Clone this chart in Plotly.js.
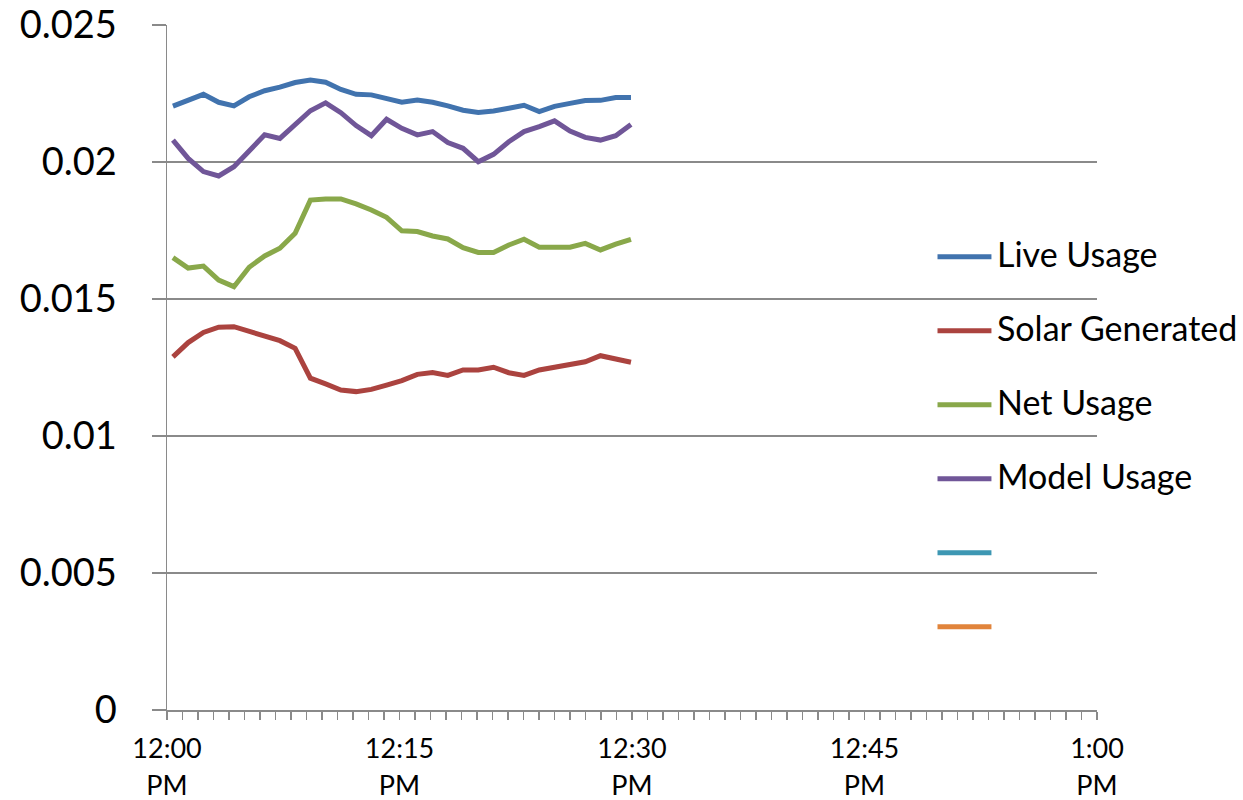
<!DOCTYPE html>
<html>
<head>
<meta charset="utf-8">
<script src="https://cdn.plot.ly/plotly-3.0.1.min.js"></script>
<style>
  html, body { margin: 0; padding: 0; background: #fff; }
  #chart { width: 1243px; height: 800px; }
</style>
</head>
<body>
<div id="chart"></div>
<script>
// Sample timestamps (one reading roughly every minute)
const times = [
  '2024-01-01 12:00:23', '2024-01-01 12:01:22', '2024-01-01 12:02:21', '2024-01-01 12:03:20',
  '2024-01-01 12:04:19', '2024-01-01 12:05:18', '2024-01-01 12:06:18', '2024-01-01 12:07:17',
  '2024-01-01 12:08:16', '2024-01-01 12:09:15', '2024-01-01 12:10:14', '2024-01-01 12:11:13',
  '2024-01-01 12:12:12', '2024-01-01 12:13:11', '2024-01-01 12:14:10', '2024-01-01 12:15:09',
  '2024-01-01 12:16:09', '2024-01-01 12:17:08', '2024-01-01 12:18:07', '2024-01-01 12:19:06',
  '2024-01-01 12:20:05', '2024-01-01 12:21:04', '2024-01-01 12:22:03', '2024-01-01 12:23:02',
  '2024-01-01 12:24:01', '2024-01-01 12:25:00', '2024-01-01 12:26:00', '2024-01-01 12:26:59',
  '2024-01-01 12:27:58', '2024-01-01 12:28:57', '2024-01-01 12:29:56'
];

const liveUsage = [
  0.02204, 0.02226, 0.02247, 0.02218, 0.02205, 0.02238, 0.02260, 0.02273,
  0.02290, 0.02299, 0.02291, 0.02265, 0.02247, 0.02245, 0.02232, 0.02218,
  0.02226, 0.02218, 0.02205, 0.02189, 0.02181, 0.02186, 0.02196, 0.02207,
  0.02184, 0.02203, 0.02214, 0.02224, 0.02225, 0.02235, 0.02235
];

const solarGenerated = [
  0.01289, 0.01341, 0.01378, 0.01397, 0.01399, 0.01381, 0.01366, 0.01348,
  0.01320, 0.01211, 0.01190, 0.01168, 0.01162, 0.01170, 0.01186, 0.01202,
  0.01225, 0.01232, 0.01221, 0.01241, 0.01241, 0.01251, 0.01231, 0.01221,
  0.01241, 0.01252, 0.01262, 0.01271, 0.01293, 0.01281, 0.01269
];

const netUsage = [
  0.01651, 0.01613, 0.01620, 0.01569, 0.01545, 0.01616, 0.01657, 0.01685,
  0.01740, 0.01861, 0.01865, 0.01865, 0.01847, 0.01825, 0.01798, 0.01749,
  0.01746, 0.01730, 0.01719, 0.01687, 0.01670, 0.01670, 0.01697, 0.01718,
  0.01689, 0.01689, 0.01689, 0.01703, 0.01679, 0.01700, 0.01718
];

const modelUsage = [
  0.02080, 0.02013, 0.01965, 0.01949, 0.01983, 0.02041, 0.02099, 0.02086,
  0.02137, 0.02187, 0.02216, 0.02180, 0.02133, 0.02096, 0.02156, 0.02123,
  0.02099, 0.02111, 0.02071, 0.02050, 0.02001, 0.02028, 0.02074, 0.02111,
  0.02129, 0.02150, 0.02113, 0.02090, 0.02080, 0.02096, 0.02137
];

// Series (the last two are unnamed and hold no readings)
const seriesNames  = ['Live Usage', 'Solar Generated', 'Net Usage', 'Model Usage', '', ''];
const seriesValues = [liveUsage, solarGenerated, netUsage, modelUsage, [], []];
const seriesColors = ['#4173AE', '#AB433F', '#89A84A', '#705698', '#3D97B3', '#E1843B'];

const xRange = ['2024-01-01 12:00:00', '2024-01-01 13:00:00'];
const yRange = [0, 0.025];

const FONT = 'Lato, "Open Sans", sans-serif';
const AXIS_GREY = '#8a8a8a';
const LINE_W = 5;

// The top-most series sits on the twin time axis (same range) that carries the AM/PM row
const traces = seriesNames.map((name, i) => ({
  type: 'scatter',
  mode: 'lines',
  name: name,
  x: seriesValues[i].length ? times : [],
  y: seriesValues[i],
  xaxis: i === 3 ? 'x2' : 'x',
  line: { color: seriesColors[i], width: LINE_W },
  hoverinfo: 'skip',
  showlegend: false
}));

// Legend drawn as short line samples with labels, stacked on the right of the plot
const legendShapes = [];
const legendLabels = [];
const legendTop = 0.6617, legendStep = 0.108;
seriesNames.forEach((name, i) => {
  const yy = legendTop - i * legendStep;
  legendShapes.push({
    type: 'line', xref: 'paper', yref: 'paper',
    x0: 0.8285, x1: 0.8865, y0: yy, y1: yy,
    line: { color: seriesColors[i], width: LINE_W }
  });
  if (name) {
    legendLabels.push({
      xref: 'paper', yref: 'paper', x: 0.8905, y: yy + 0.004,
      xanchor: 'left', yanchor: 'middle', showarrow: false,
      text: name, font: { family: FONT, size: 34, color: '#000' }
    });
  }
});

const layout = {
  width: 1243,
  height: 800,
  margin: { l: 167, r: 146, t: 25, b: 90 },
  paper_bgcolor: '#fff',
  plot_bgcolor: '#fff',
  showlegend: false,
  font: { family: FONT, color: '#000' },
  xaxis: {
    type: 'date',
    range: xRange,
    showgrid: false,
    zeroline: false,
    showline: true,
    linecolor: AXIS_GREY,
    linewidth: 1.5,
    ticks: 'outside',
    ticklen: 8,
    tickwidth: 1.5,
    tickcolor: AXIS_GREY,
    dtick: 15 * 60 * 1000,
    tick0: xRange[0],
    tickformat: '%-I:%M',
    tickfont: { family: FONT, size: 27, color: '#000' },
    ticklabelstandoff: 6,
    minor: {
      dtick: 60 * 1000,
      ticks: 'outside',
      ticklen: 8,
      tickwidth: 1.5,
      tickcolor: AXIS_GREY,
      showgrid: false
    }
  },
  xaxis2: {
    type: 'date',
    range: xRange,
    overlaying: 'x',
    anchor: 'y',
    side: 'bottom',
    showgrid: false,
    zeroline: false,
    showline: false,
    ticks: '',
    dtick: 15 * 60 * 1000,
    tick0: xRange[0],
    tickformat: '%p',
    tickfont: { family: FONT, size: 27, color: '#000' },
    ticklabelstandoff: 57
  },
  yaxis: {
    range: yRange,
    dtick: 0.005,
    tick0: 0,
    showgrid: true,
    gridcolor: AXIS_GREY,
    gridwidth: 1.4,
    zeroline: false,
    showline: true,
    linecolor: AXIS_GREY,
    linewidth: 1.5,
    ticks: 'outside',
    ticklen: 14,
    tickwidth: 1.5,
    tickcolor: AXIS_GREY,
    tickfont: { family: FONT, size: 38, color: '#000' },
    ticklabelstandoff: 27
  },
  shapes: legendShapes,
  annotations: legendLabels
};

Plotly.newPlot('chart', traces, layout, { displayModeBar: false, staticPlot: true });
</script>
</body>
</html>
